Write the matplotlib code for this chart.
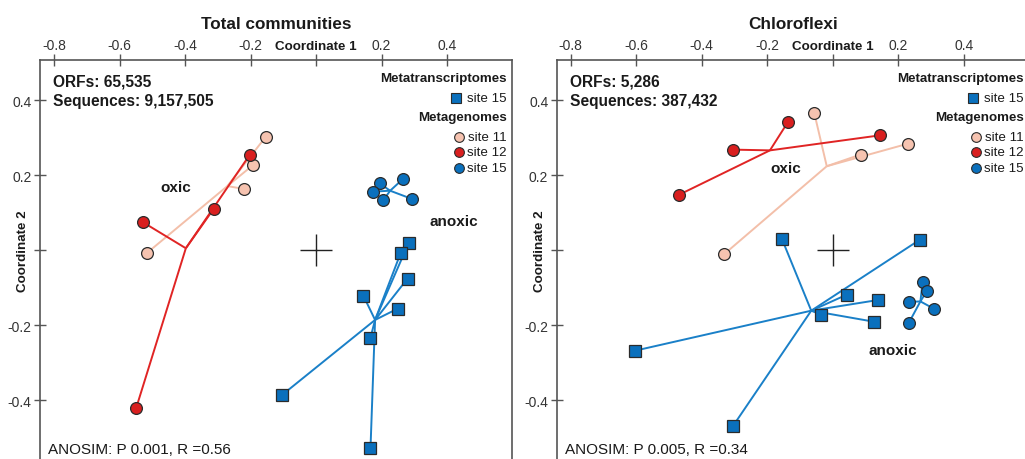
import numpy as np
import matplotlib
matplotlib.use("Agg")
import matplotlib.pyplot as plt
import matplotlib.transforms as mtransforms

plt.rcParams["font.family"] = ["Liberation Sans", "DejaVu Sans"]

# -------------------------------
# DATA (PCoA coordinates)
# -------------------------------
panel_titles = ["Total communities", "Chloroflexi"]
orfs_text = ["ORFs: 65,535", "ORFs: 5,286"]
seq_text = ["Sequences: 9,157,505", "Sequences: 387,432"]
anosim_text = ["ANOSIM: P 0.001, R =0.56", "ANOSIM: P 0.005, R =0.34"]

# Total communities
tot_mg11_x = [-0.154, -0.194, -0.219, -0.517]
tot_mg11_y = [0.302, 0.226, 0.163, -0.008]
tot_mg12_x = [-0.202, -0.312, -0.528, -0.549]
tot_mg12_y = [0.255, 0.111, 0.074, -0.420]
tot_mg15_x = [0.194, 0.264, 0.173, 0.205, 0.294]
tot_mg15_y = [0.178, 0.189, 0.156, 0.133, 0.136]
tot_mt15_x = [0.283, 0.258, 0.279, 0.144, 0.249, 0.166, -0.105, 0.166]
tot_mt15_y = [0.020, -0.008, -0.076, -0.121, -0.156, -0.233, -0.387, -0.528]

# Chloroflexi
chl_mg11_x = [-0.057, 0.085, 0.230, -0.332]
chl_mg11_y = [0.367, 0.255, 0.284, -0.011]
chl_mg12_x = [-0.136, -0.304, 0.143, -0.471]
chl_mg12_y = [0.343, 0.268, 0.306, 0.147]
chl_mg15_x = [0.274, 0.287, 0.234, 0.310, 0.232]
chl_mg15_y = [-0.086, -0.109, -0.138, -0.157, -0.194]
chl_mt15_x = [-0.156, 0.266, 0.042, 0.138, -0.036, 0.126, -0.603, -0.304]
chl_mt15_y = [0.031, 0.028, -0.119, -0.133, -0.172, -0.191, -0.268, -0.468]

# group labels: (x, y) of "oxic" and "anoxic"
oxic_pos = [(-0.428, 0.167), (-0.145, 0.218)]
anoxic_pos = [(0.419, 0.078), (0.182, -0.266)]

xticks = [-0.8, -0.6, -0.4, -0.2, 0.0, 0.2, 0.4]
yticks = [-0.4, -0.2, 0.0, 0.2, 0.4]

# -------------------------------
# STYLE
# -------------------------------
C11_FILL, C11_LINE = "#f6c3b0", "#f3bfa9"
C12_FILL, C12_LINE = "#d91f1f", "#e02424"
C15_FILL, C15_LINE = "#0a70bd", "#1a80c8"
EDGE = "#2b2b2b"
SPINE = "#555555"
TXT = "#1a1a1a"


def spider(ax, xs, ys, fill, line, marker):
    xs, ys = np.asarray(xs), np.asarray(ys)
    cx, cy = xs.mean(), ys.mean()
    for x, y in zip(xs, ys):
        ax.plot([cx, x], [cy, y], color=line, lw=1.4, zorder=2, solid_capstyle="butt")
    ax.plot(xs, ys, ls="none", marker=marker, ms=8.5 if marker == "o" else 8.8,
            mfc=fill, mec=EDGE, mew=0.9, zorder=3)


def legend(ax):
    tx = 0.989
    hdr = dict(transform=ax.transAxes, ha="right", va="center", fontsize=9.6,
               fontweight="bold", color=TXT, clip_on=False)
    row = dict(transform=ax.transAxes, ha="right", va="center", fontsize=9.6,
               color=TXT, clip_on=False)
    ax.text(tx, 0.955, "Metatranscriptomes", **hdr)
    ax.plot([0.881], [0.906], transform=ax.transAxes, marker="s", ms=6.8, mfc=C15_FILL,
            mec=EDGE, mew=0.8, clip_on=False)
    ax.text(tx, 0.906, "site 15", **row)
    ax.text(tx, 0.856, "Metagenomes", **hdr)
    for yy, col in zip([0.808, 0.769, 0.730], [C11_FILL, C12_FILL, C15_FILL]):
        ax.plot([0.888], [yy], transform=ax.transAxes, marker="o", ms=7, mfc=col,
                mec=EDGE, mew=0.8, clip_on=False)
    ax.text(tx, 0.808, "site 11", **row)
    ax.text(tx, 0.769, "site 12", **row)
    ax.text(tx, 0.730, "site 15", **row)


fig = plt.figure(figsize=(10.25, 4.6), dpi=100)
W, H = 1025.0, 460.0
ax_w = 472 / W
ax_h = (460 - 61) / H
axes = [fig.add_axes([40 / W, 0, ax_w, ax_h]),
        fig.add_axes([556.7 / W, 0, ax_w, ax_h])]

groups = [
    [(tot_mg11_x, tot_mg11_y, C11_FILL, C11_LINE, "o"),
     (tot_mg12_x, tot_mg12_y, C12_FILL, C12_LINE, "o"),
     (tot_mg15_x, tot_mg15_y, C15_FILL, C15_LINE, "o"),
     (tot_mt15_x, tot_mt15_y, C15_FILL, C15_LINE, "s")],
    [(chl_mg11_x, chl_mg11_y, C11_FILL, C11_LINE, "o"),
     (chl_mg12_x, chl_mg12_y, C12_FILL, C12_LINE, "o"),
     (chl_mg15_x, chl_mg15_y, C15_FILL, C15_LINE, "o"),
     (chl_mt15_x, chl_mt15_y, C15_FILL, C15_LINE, "s")],
]

for i, ax in enumerate(axes):
    ax.set_xlim(-0.843, 0.598)
    ax.set_ylim(-0.557, 0.507)

    for xs, ys, fill, line, mk in groups[i]:
        spider(ax, xs, ys, fill, line, mk)

    # origin cross
    ax.plot([0], [0], marker="+", ms=23, mew=1.0, color="#222222", zorder=1)

    # axes frame: left, top (and right on the first panel)
    ax.spines["bottom"].set_visible(False)
    ax.spines["right"].set_visible(i == 0)
    for sp in ax.spines.values():
        sp.set_color(SPINE)
        sp.set_linewidth(1.2)

    ax.xaxis.tick_top()
    ax.set_xticks(xticks)
    ax.set_xticklabels(["" if t == 0 else f"{t:.1f}" for t in xticks])
    ax.set_yticks(yticks)
    ax.set_yticklabels(["" if t == 0 else f"{t:.1f}" for t in yticks])
    ax.tick_params(direction="inout", length=8, width=1.0, color=SPINE,
                   labelsize=10, pad=2, labelcolor="#333333")

    # axis names sit in place of the 0 tick labels
    tx = mtransforms.blended_transform_factory(ax.transData, ax.transAxes)
    ax.annotate("Coordinate 1", xy=(0, 1), xycoords=tx, xytext=(0, 6),
                textcoords="offset points", ha="center", va="bottom",
                fontsize=9.6, fontweight="bold", color=TXT)
    ty = mtransforms.blended_transform_factory(ax.transAxes, ax.transData)
    ax.annotate("Coordinate 2", xy=(0, 0), xycoords=ty, xytext=(-8, 0),
                textcoords="offset points", ha="right", va="center", rotation=90,
                fontsize=9.6, fontweight="bold", color=TXT)

    ax.set_title(panel_titles[i], fontsize=12.3, fontweight="bold", pad=23, color=TXT)

    ax.text(0.028, 0.947, orfs_text[i], transform=ax.transAxes, ha="left", va="center",
            fontsize=11.2, fontweight="bold", color=TXT)
    ax.text(0.028, 0.898, seq_text[i], transform=ax.transAxes, ha="left", va="center",
            fontsize=11.2, fontweight="bold", color=TXT)
    ax.text(0.018, 0.024, anosim_text[i], transform=ax.transAxes, ha="left", va="center",
            fontsize=11, color=TXT)

    ax.text(*oxic_pos[i], "oxic", ha="center", va="center", fontsize=11,
            fontweight="bold", color=TXT)
    ax.text(*anoxic_pos[i], "anoxic", ha="center", va="center", fontsize=11,
            fontweight="bold", color=TXT)

    legend(ax)

fig.savefig("out.png", dpi=100)
